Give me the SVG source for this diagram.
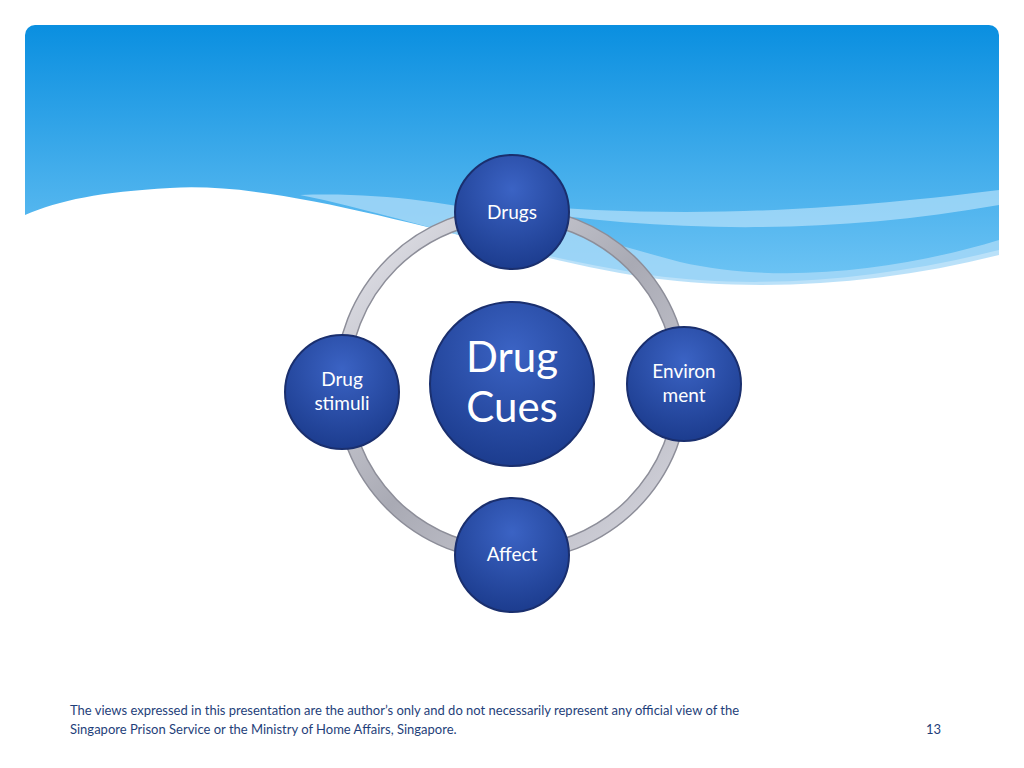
<svg xmlns="http://www.w3.org/2000/svg" width="1024" height="768" viewBox="0 0 1024 768">
<style>
.n{fill:url(#ng);stroke:#1a2f6e;stroke-width:2}
.t{font-family:Lato,"Open Sans",sans-serif;fill:#fff;text-anchor:middle}
.f{font-family:Lato,"Open Sans",sans-serif;fill:#1f3f7a;font-size:13px}
</style>
<defs>
<linearGradient id="sky" x1="0" y1="0" x2="0" y2="1"><stop offset="0" stop-color="#0a8fe0"/><stop offset="1" stop-color="#6ec4f4"/></linearGradient>
<radialGradient id="ng" cx="0.5" cy="0.3" r="0.7"><stop offset="0" stop-color="#3b63c4"/><stop offset="1" stop-color="#1c3c8e"/></radialGradient>
<linearGradient id="ring" x1="0" y1="0" x2="1" y2="1"><stop offset="0" stop-color="#e8e8ee"/><stop offset="0.5" stop-color="#a9aab4"/><stop offset="1" stop-color="#d8d8e0"/></linearGradient>
<clipPath id="hc"><rect x="25" y="25" width="974" height="270" rx="10"/></clipPath>
</defs>
<rect width="1024" height="768" fill="#fff"/>
<g clip-path="url(#hc)">
<path d="M25 25H999V250C880 280 760 290 650 275C480 250 300 180 170 188C100 192 60 200 25 215Z" fill="url(#sky)"/>
<path d="M300 195C450 190 560 230 680 262C780 285 900 270 999 240V255C880 285 760 292 650 278C520 258 400 215 300 195Z" fill="#a9daf8" opacity="0.8"/>
<path d="M460 200C620 215 760 220 999 190V205C800 240 620 230 460 200Z" fill="#c6e7fb" opacity="0.6"/>
</g>
<g id="connectors">
<circle cx="512" cy="384" r="170" fill="none" stroke="#8d8e99" stroke-width="15"/>
<circle cx="512" cy="384" r="170" fill="none" stroke="url(#ring)" stroke-width="12"/>
</g>
<g id="drugs"><circle class="n" cx="512" cy="212" r="57"/><text class="t" x="512" y="219" font-size="19">Drugs</text></g>
<g id="env"><circle class="n" cx="684" cy="384" r="57"/><text class="t" x="684" y="378" font-size="19">Environ</text><text class="t" x="684" y="402" font-size="19">ment</text></g>
<g id="affect"><circle class="n" cx="512" cy="555" r="57"/><text class="t" x="512" y="561" font-size="19">Affect</text></g>
<g id="stimuli"><circle class="n" cx="342" cy="392" r="57"/><text class="t" x="342" y="386" font-size="19">Drug</text><text class="t" x="342" y="410" font-size="19">stimuli</text></g>
<g id="center"><circle class="n" cx="512" cy="384" r="82"/><text class="t" x="512" y="372" font-size="42">Drug</text><text class="t" x="512" y="422" font-size="42">Cues</text></g>
<text class="f" x="70" y="715">The views expressed in this presentation are the author’s only and do not necessarily represent any official view of the</text>
<text class="f" x="70" y="734">Singapore Prison Service or the Ministry of Home Affairs, Singapore.</text>
<text class="f" x="926" y="734">13</text>
</svg>
